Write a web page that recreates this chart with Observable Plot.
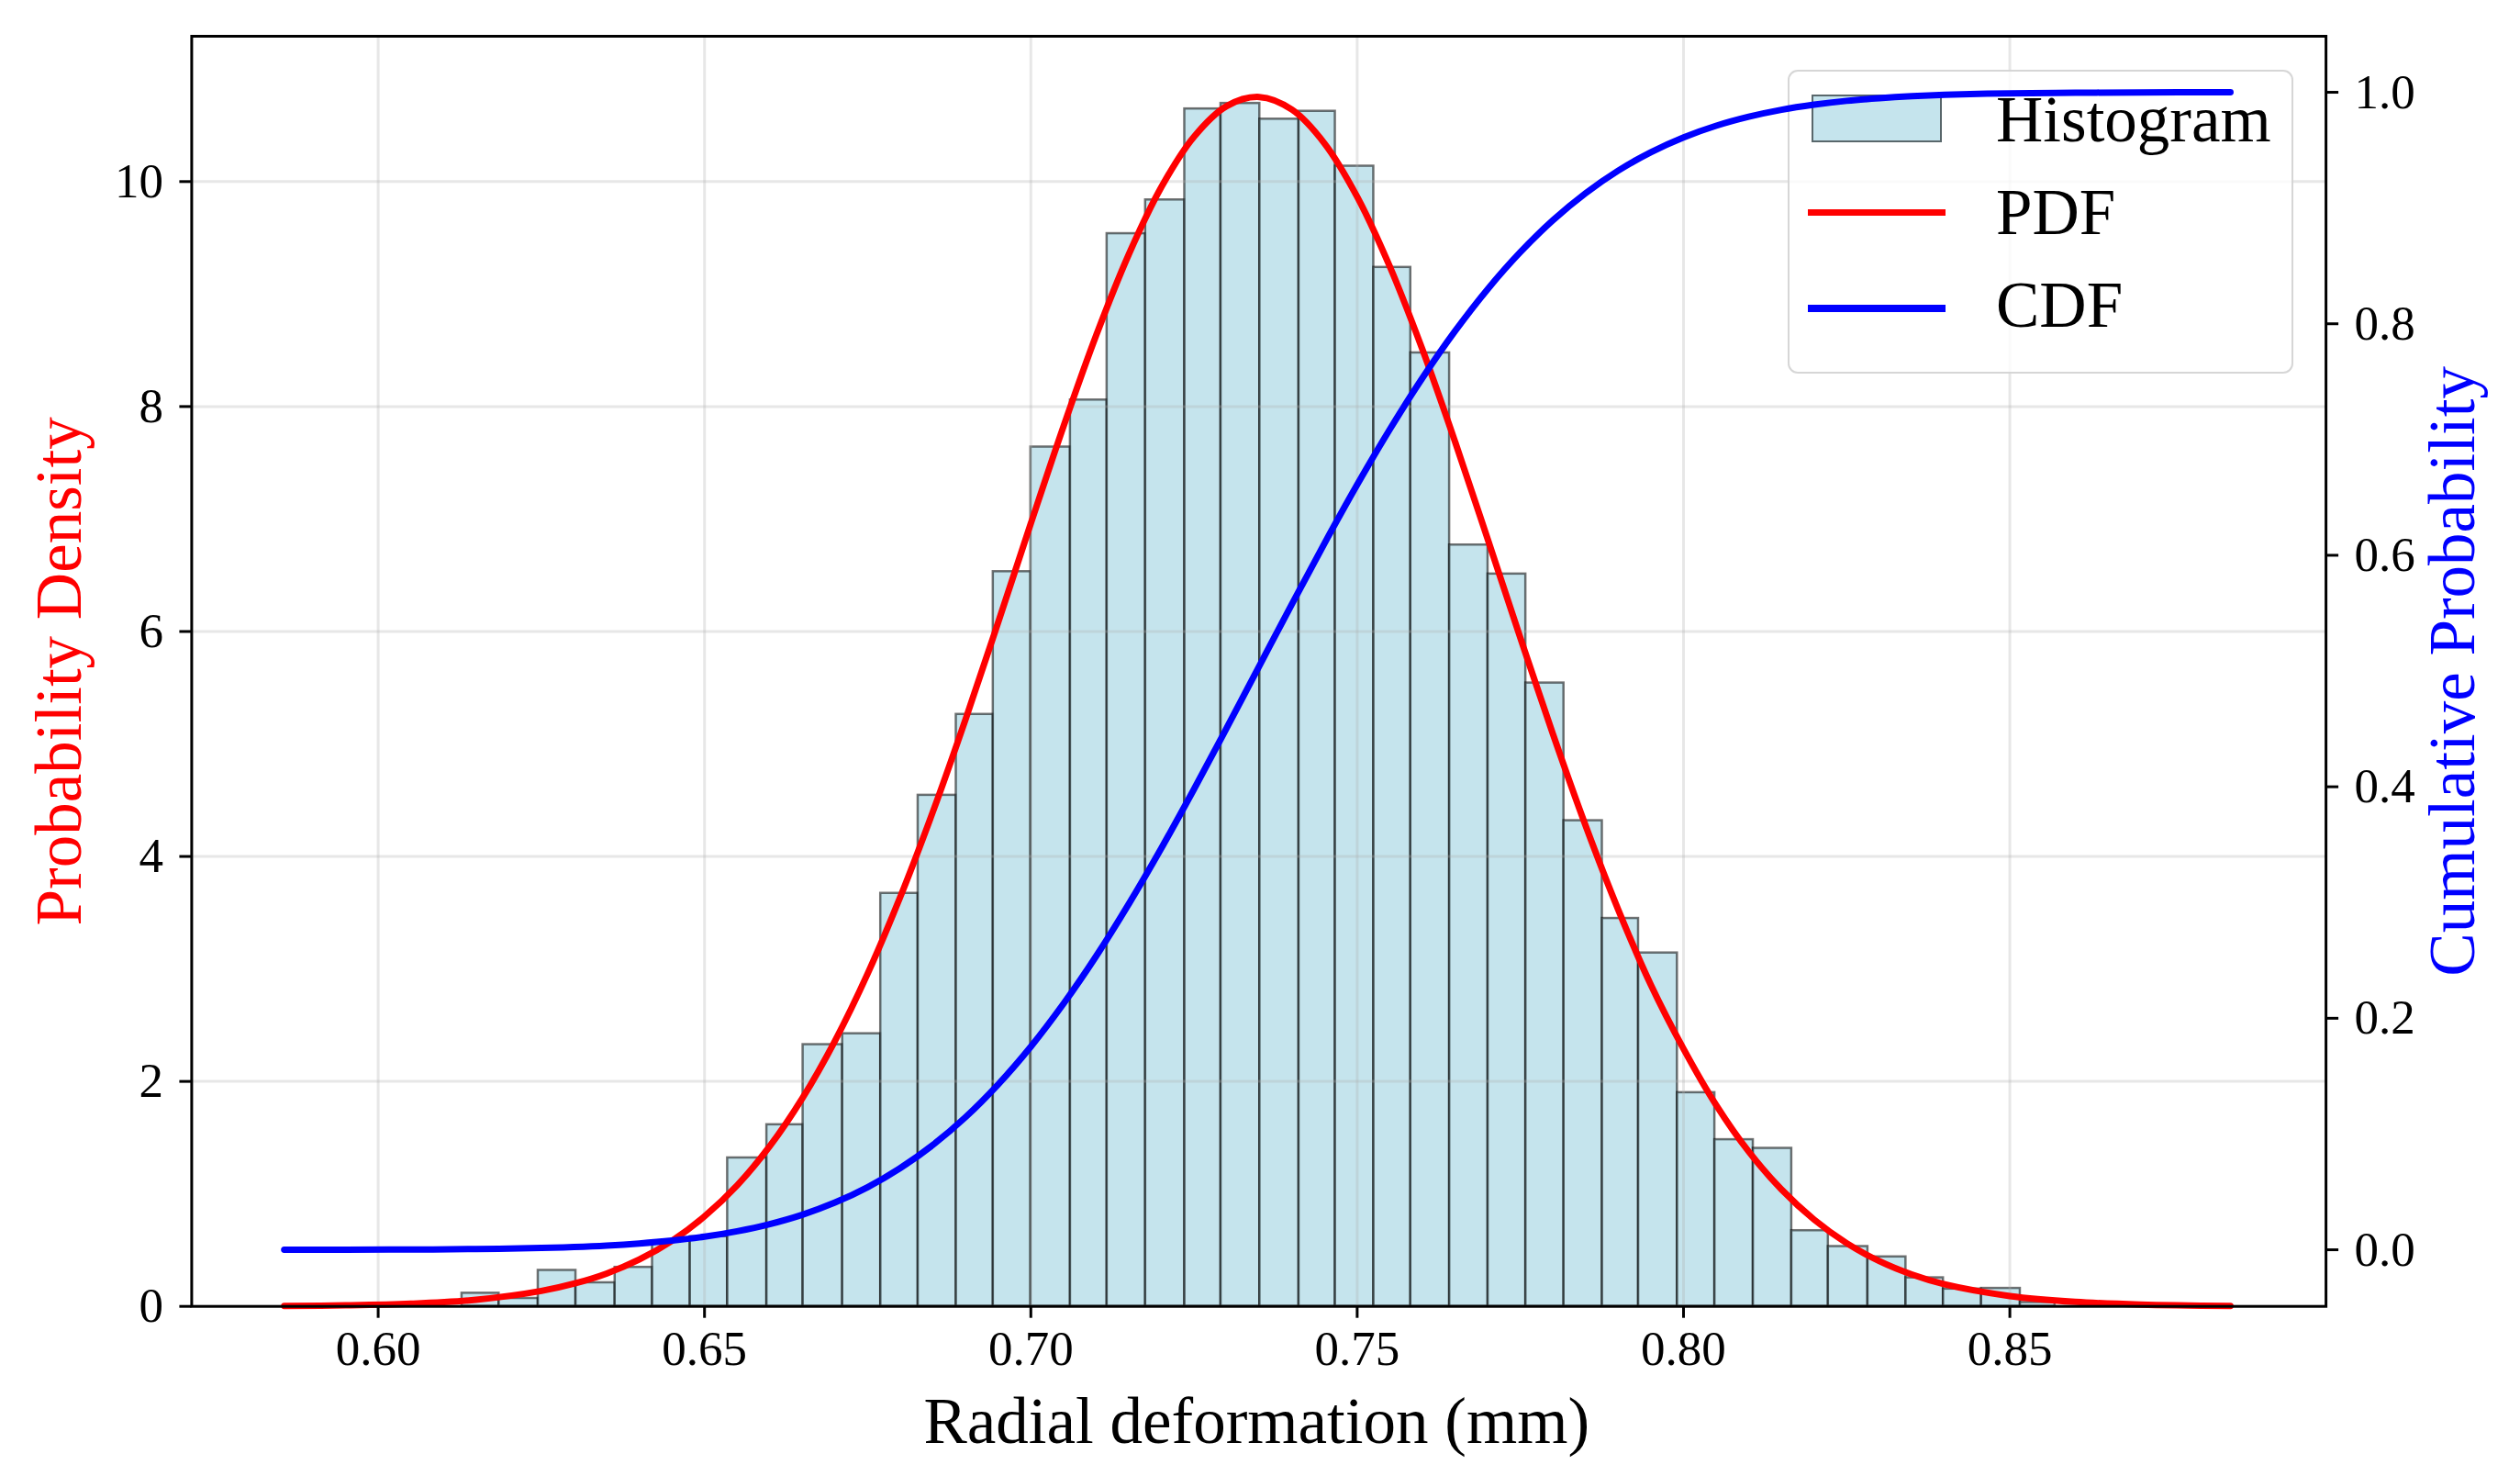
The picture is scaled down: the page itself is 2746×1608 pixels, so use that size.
<!DOCTYPE html>
<html>
<head>
<meta charset="utf-8">
<script src="https://cdn.jsdelivr.net/npm/d3@7"></script>
<script src="https://cdn.jsdelivr.net/npm/@observablehq/plot@0.6"></script>
<style>
  html, body { margin: 0; padding: 0; background: #fff; }
  #wrap { position: relative; width: 2746px; height: 1608px; overflow: hidden; }
  .layer { position: absolute; left: 0; top: 0; }
  .legend-item { position: absolute; }
  .legend-text { position: absolute; font-family: "Liberation Serif", "Times New Roman", serif; font-size: 71px; line-height: 71px; color: #000; white-space: nowrap; }
</style>
</head>
<body>
<div id="wrap"></div>
<script>
// ---- data ----
const binEdges = [0.61284, 0.61852, 0.62452, 0.63030, 0.63630, 0.64203, 0.64781, 0.65354, 0.65955, 0.66510,
  0.67116, 0.67700, 0.68273, 0.68857, 0.69424, 0.70000, 0.70606, 0.71168, 0.71758, 0.72358,
  0.72913, 0.73508, 0.74108, 0.74665, 0.75254, 0.75821, 0.76416, 0.77005, 0.77584, 0.78168,
  0.78756, 0.79311, 0.79906, 0.80480, 0.81069, 0.81658, 0.82219, 0.82825, 0.83408, 0.83982,
  0.84566, 0.85160, 0.85693];
const binDensity = [0.117, 0.071, 0.32, 0.21, 0.347, 0.58, 0.62, 1.32, 1.615, 2.327,
  2.424, 3.672, 4.544, 5.263, 6.532, 7.640, 8.058, 9.537, 9.837, 10.646,
  10.695, 10.555, 10.625, 10.137, 9.237, 8.477, 6.769, 6.511, 5.542, 4.318,
  3.449, 3.142, 1.900, 1.482, 1.405, 0.673, 0.532, 0.44, 0.254, 0.154,
  0.16, 0.035];

const curveX = [0.5856, 0.595, 0.605, 0.615, 0.625, 0.630, 0.635, 0.640, 0.645, 0.650,
  0.655, 0.660, 0.665, 0.670, 0.675, 0.680, 0.685, 0.690, 0.695, 0.700,
  0.705, 0.710, 0.715, 0.720, 0.725, 0.730, 0.735, 0.740, 0.745, 0.750,
  0.755, 0.760, 0.765, 0.770, 0.775, 0.780, 0.785, 0.790, 0.795, 0.800,
  0.805, 0.810, 0.815, 0.820, 0.825, 0.830, 0.835, 0.840, 0.850, 0.860,
  0.870, 0.8838];
const pdfValues = [0.003, 0.009, 0.024, 0.059, 0.137, 0.202, 0.292, 0.416, 0.582, 0.80,
  1.076, 1.424, 1.851, 2.362, 2.959, 3.641, 4.399, 5.220, 6.083, 6.961,
  7.822, 8.631, 9.352, 9.952, 10.399, 10.671, 10.752, 10.640, 10.339, 9.865,
  9.244, 8.507, 7.687, 6.821, 5.944, 5.086, 4.273, 3.526, 2.858, 2.290,
  1.790, 1.375, 1.040, 0.772, 0.562, 0.402, 0.283, 0.196, 0.092, 0.040,
  0.016, 0.004];
const cdfValues = [0.0000, 0.0001, 0.0002, 0.0006, 0.0016, 0.0024, 0.0036, 0.0054, 0.0079, 0.0113,
  0.0160, 0.0222, 0.0303, 0.0408, 0.0541, 0.0706, 0.0906, 0.1146, 0.1429, 0.1755,
  0.2125, 0.2536, 0.2987, 0.3470, 0.3979, 0.4507, 0.5043, 0.5579, 0.6104, 0.6610,
  0.7088, 0.7532, 0.7937, 0.8300, 0.8619, 0.8895, 0.9128, 0.9323, 0.9482, 0.9610,
  0.9711, 0.9789, 0.9849, 0.9893, 0.9926, 0.9949, 0.9966, 0.9978, 0.9991, 0.9996,
  0.9999, 1.0000];

const xTicks = [0.60, 0.65, 0.70, 0.75, 0.80, 0.85];
const densityTicks = [0, 2, 4, 6, 8, 10];
const cdfTicks = [0.0, 0.2, 0.4, 0.6, 0.8, 1.0];
const xLabel = "Radial deformation (mm)";
const yLeftLabel = "Probability Density";
const yRightLabel = "Cumulative Probability";
const legendLabels = ["Histogram", "PDF", "CDF"];

// ---- derived tables ----
const bins = binDensity.map((d, i) => ({x1: binEdges[i], x2: binEdges[i + 1], density: d}));
const curve = curveX.map((x, i) => ({x, pdf: pdfValues[i], cdf: cdfValues[i]}));

const FONT = "Liberation Serif";
const W = 2746, H = 1608;
const margins = {marginLeft: 208.4, marginRight: 211.9, marginTop: 39, marginBottom: 185.3};
const xDomain = [0.57143, 0.89844];

const wrap = document.getElementById("wrap");

// Layer 1: histogram, PDF, left axis, bottom axis
const plot1 = Plot.plot({
  width: W, height: H, ...margins,
  style: {fontFamily: FONT, color: "black", background: "white"},
  x: {domain: xDomain},
  y: {domain: [0, 11.292]},
  marks: [
    Plot.rect(bins, {x1: "x1", x2: "x2", y1: 0, y2: "density", inset: 0,
      fill: "lightblue", fillOpacity: 0.7, stroke: "black", strokeOpacity: 0.55, strokeWidth: 2.5}),
    Plot.gridX({ticks: xTicks, stroke: "#b0b0b0", strokeOpacity: 0.3, strokeWidth: 3}),
    Plot.gridY({ticks: densityTicks, stroke: "#b0b0b0", strokeOpacity: 0.3, strokeWidth: 3}),
    Plot.line(curve, {x: "x", y: "pdf", stroke: "red", strokeWidth: 7, curve: "catmull-rom"}),
    Plot.axisX({ticks: xTicks, tickSize: 13, tickPadding: 13, fontSize: 53, strokeWidth: 3,
      tickFormat: d => d.toFixed(2), label: null, fontFamily: FONT}),
    Plot.axisY({ticks: densityTicks, anchor: "left", tickSize: 13, tickPadding: 18, fontSize: 53, strokeWidth: 3,
      tickFormat: d => String(d), label: null, fontFamily: FONT}),
    Plot.frame({stroke: "black", strokeWidth: 3}),
    Plot.text([yLeftLabel], {text: d => d, frameAnchor: "left", rotate: -90, dx: -120.4,
      lineAnchor: "bottom", textAnchor: "middle", fill: "red", fontSize: 71, fontFamily: FONT}),
    Plot.text([xLabel], {text: d => d, frameAnchor: "bottom", dy: 149, dx: -2.5,
      lineAnchor: "bottom", textAnchor: "middle", fill: "black", fontSize: 71, fontFamily: FONT})
  ]
});
plot1.classList.add("layer");
wrap.appendChild(plot1);

// Legend (drawn between the two axes layers, like matplotlib's twin axes)
const legend = document.createElement("div");
legend.className = "layer";
legend.style.width = W + "px";
legend.style.height = H + "px";
legend.innerHTML = `
  <div class="legend-item" style="left:1947.5px;top:76px;width:551.5px;height:330.7px;box-sizing:border-box;
       border:2.5px solid rgba(204,204,204,0.8);background:rgba(255,255,255,0.8);border-radius:11px;"></div>
  <div class="legend-item" style="left:1974px;top:103px;width:142px;height:52px;box-sizing:border-box;
       background:rgba(173,216,230,0.7);border:2.5px solid rgba(0,0,0,0.55);"></div>
  <div class="legend-item" style="left:1970px;top:227.7px;width:150px;height:7.5px;background:red;"></div>
  <div class="legend-item" style="left:1970px;top:332px;width:150px;height:7.5px;background:blue;"></div>
  <div class="legend-text" style="left:2175px;top:94.5px;">${legendLabels[0]}</div>
  <div class="legend-text" style="left:2175px;top:195.5px;">${legendLabels[1]}</div>
  <div class="legend-text" style="left:2175px;top:297.2px;">${legendLabels[2]}</div>
`;
wrap.appendChild(legend);

// Layer 2: CDF on the secondary (right) axis
const plot2 = Plot.plot({
  width: W, height: H, ...margins,
  style: {fontFamily: FONT, color: "black", background: "transparent"},
  x: {domain: xDomain, axis: null},
  y: {domain: [-0.0489, 1.0484], axis: null},
  marks: [
    Plot.line(curve, {x: "x", y: "cdf", stroke: "blue", strokeWidth: 7, curve: "catmull-rom"}),
    Plot.axisY({ticks: cdfTicks, anchor: "right", tickSize: 13, tickPadding: 18, fontSize: 53, strokeWidth: 3,
      tickFormat: d => d.toFixed(1), label: null, fontFamily: FONT}),
    Plot.text([yRightLabel], {text: d => d, frameAnchor: "right", rotate: -90, dx: 161,
      lineAnchor: "bottom", textAnchor: "middle", fill: "blue", fontSize: 71, fontFamily: FONT})
  ]
});
plot2.classList.add("layer");
wrap.appendChild(plot2);
</script>
</body>
</html>
